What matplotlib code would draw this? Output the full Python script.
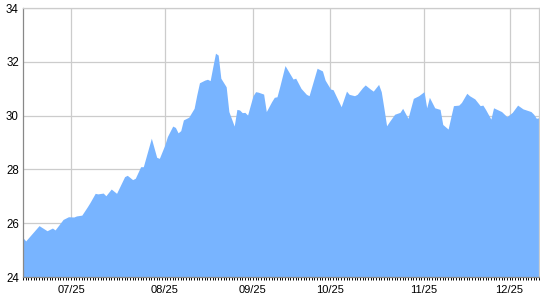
import matplotlib
matplotlib.use("Agg")
import matplotlib.pyplot as plt

# trading-day index and closing value
days = [0, 1, 6, 9, 11, 12, 15, 17, 19, 20, 22, 24, 25, 27, 28, 30, 31, 33, 35,
        38, 39, 41, 42, 44, 45, 48, 50, 51, 53, 54, 56, 57, 58, 59, 60, 62, 64,
        65, 66, 68, 69, 70, 71, 72, 73, 74, 76, 77, 79, 80, 81, 82, 83, 84, 86,
        87, 88, 90, 91, 93, 94, 95, 96, 98, 101, 102, 104, 106, 107, 110, 112,
        113, 115, 116, 119, 121, 122, 124, 125, 127, 128, 130, 131, 133, 134,
        135, 136, 137, 139, 141, 142, 144, 145, 146, 148, 150, 151, 152, 154,
        156, 157, 159, 161, 163, 164, 166, 167, 169, 171, 172, 173, 175, 176,
        179, 181, 183, 185, 187, 190, 191, 192, 193]
values = [25.46, 25.34, 25.91, 25.72, 25.82, 25.75, 26.14, 26.24, 26.23, 26.27,
          26.30, 26.60, 26.76, 27.11, 27.09, 27.12, 27.02, 27.27, 27.11, 27.73,
          27.78, 27.62, 27.67, 28.10, 28.10, 29.16, 28.45, 28.41, 28.90, 29.22,
          29.61, 29.56, 29.36, 29.44, 29.84, 29.94, 30.27, 30.77, 31.22, 31.32,
          31.35, 31.30, 31.82, 32.32, 32.25, 31.39, 31.07, 30.15, 29.61, 30.23,
          30.21, 30.11, 30.12, 30.02, 30.73, 30.89, 30.87, 30.80, 30.15, 30.52,
          30.68, 30.70, 31.07, 31.86, 31.36, 31.39, 31.01, 30.79, 30.74, 31.76,
          31.66, 31.32, 30.99, 30.96, 30.33, 30.91, 30.79, 30.74, 30.79, 31.04,
          31.14, 30.98, 30.91, 31.16, 30.89, 30.27, 29.62, 29.77, 30.05, 30.12,
          30.27, 29.90, 30.27, 30.64, 30.74, 30.89, 30.29, 30.68, 30.29, 30.23,
          29.67, 29.50, 30.37, 30.39, 30.49, 30.83, 30.74, 30.62, 30.37, 30.39,
          30.23, 29.87, 30.29, 30.15, 29.96, 30.12, 30.39, 30.25, 30.15, 30.05,
          29.90, 29.92]

label_days = [18, 53, 86, 115, 150, 182]
labels = ["07/25", "08/25", "09/25", "10/25", "11/25", "12/25"]
yticks = [24, 26, 28, 30, 32, 34]

plt.rcParams["font.family"] = ["Liberation Sans", "DejaVu Sans"]

fig = plt.figure(figsize=(5.4, 3.0), dpi=100)
ax = fig.add_axes([23 / 540, 23 / 300, 516 / 540, 269 / 300])

ax.fill_between(days, values, 24, color="#78b4ff", linewidth=0, zorder=2)

ax.set_xlim(0, 193)
ax.set_ylim(24, 34)
ax.set_yticks(yticks)
ax.set_xticks(label_days)
ax.set_xticklabels(labels)
ax.set_xticks(range(0, 194), minor=True)

ax.grid(True, color="#cccccc", linewidth=0.9, zorder=1)
ax.set_axisbelow(True)

ax.tick_params(axis="y", length=0, pad=3, labelsize=8.3, colors="black")
ax.tick_params(axis="x", which="both", length=2.5, width=0.7, direction="out",
               color="black", pad=3, labelsize=8)

ax.spines["left"].set_color("#888888")
ax.spines["bottom"].set_color("#888888")
ax.spines["top"].set_color("#cccccc")
ax.spines["right"].set_color("#cccccc")
for s in ax.spines.values():
    s.set_linewidth(0.9)

fig.savefig("out.png", dpi=100)
